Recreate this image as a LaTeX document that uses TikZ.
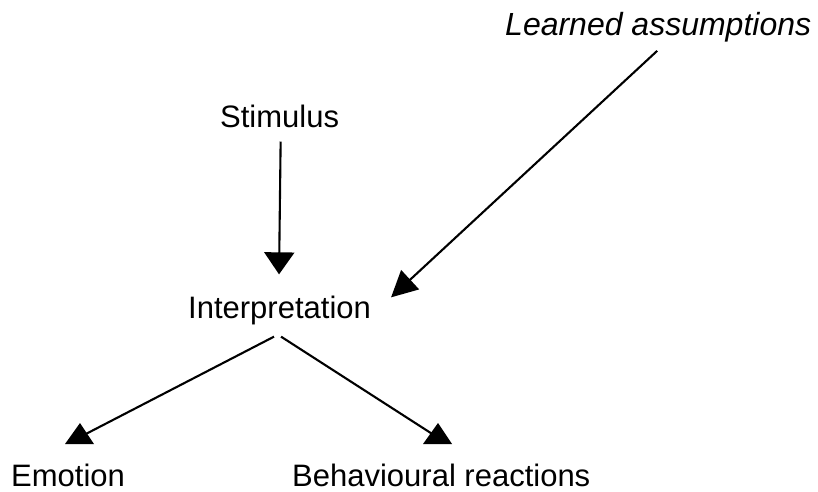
\documentclass[tikz,border=0pt]{standalone}
\usepackage{fontspec}
\setmainfont{Liberation Sans}
\usetikzlibrary{arrows.meta}
\begin{document}
\begin{tikzpicture}[x=1pt,y=-1pt,
  lbl/.style={inner sep=0pt,anchor=base west,font=\fontsize{31}{36}\selectfont},
  conn/.style={line width=2.1pt,black},
  headtri/.style={fill=black}]
\useasboundingbox (0,0) rectangle (818,491);
\node[lbl,font=\fontsize{32}{36}\selectfont\itshape] (learn) at (505,35) {Learned assumptions};
\node[lbl] (stim) at (220,127) {Stimulus};
\node[lbl] (interp) at (188,318) {Interpretation};
\node[lbl] (emo) at (11,486) {Emotion};
\node[lbl] (beh) at (292,486) {Behavioural reactions};
% arrow tips for lower arrows (upright triangles)
\coordinate (ea) at (80,423);
\coordinate (ba) at (438,423);
\coordinate (ec) at (80,437);
\coordinate (bc) at (437,437);
% Stimulus -> Interpretation
\draw[conn,-{Triangle[width=30pt,length=22pt]}] ([xshift=1pt,yshift=-14pt]stim.south) -- ([xshift=-0.5pt,yshift=21pt]interp.north);
% Learned assumptions -> Interpretation
\draw[conn,-{Triangle[width=26pt,length=26pt]}] ([xshift=-1pt,yshift=-9pt]learn.south) -- ([xshift=20pt,yshift=-2pt]interp.north east);
% Interpretation -> Emotion, Behavioural reactions
\draw[conn] ([xshift=-5.5pt,yshift=-12pt]interp.south) -- (ec);
\draw[conn] ([xshift=1.5pt,yshift=-12pt]interp.south) -- (bc);
\fill[headtri] (ea) -- (65,444) -- (94,444) -- cycle;
\fill[headtri] (ba) -- (423,444) -- (452,444) -- cycle;
\end{tikzpicture}
\end{document}
